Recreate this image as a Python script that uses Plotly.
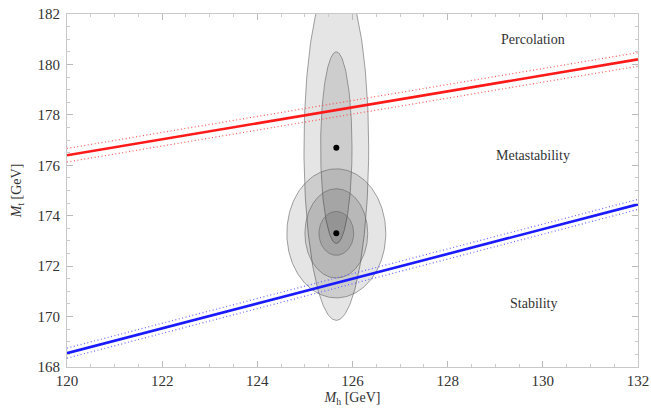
import numpy as np
import plotly.graph_objects as go

# ---- data ----
x_range = [120, 132]
y_range = [168, 182]

# boundary lines (Mh endpoints, Mt values)
line_mh = [120, 132]
percolation_mt = [176.4, 180.2]
percolation_err = 0.27
stability_mt = [168.55, 174.45]
stability_err = 0.2

# ellipse contours: center Mh, center Mt, semi-axis Mh, semi-axis Mt
ell_cx = [125.66, 125.66, 125.66, 125.66, 125.66]
ell_cy = [176.7, 176.7, 173.3, 173.3, 173.3]
ell_ax = [0.68, 0.33, 1.04, 0.66, 0.365]
ell_ay = [6.85, 3.8, 2.56, 1.77, 0.87]

best_mh = [125.66, 125.66]
best_mt = [176.7, 173.3]

region_labels = ["Percolation", "Metastability", "Stability"]
region_x = [129.8, 129.8, 129.8]
region_y = [181.0, 176.4, 170.5]

SERIF = "Liberation Serif, Times New Roman, serif"

fig = go.Figure()

t = np.linspace(0, 2 * np.pi, 240)
for cx, cy, ax, ay in zip(ell_cx, ell_cy, ell_ax, ell_ay):
    fig.add_trace(go.Scatter(
        x=cx + ax * np.cos(t), y=cy + ay * np.sin(t),
        mode="lines", fill="toself",
        fillcolor="rgba(0,0,0,0.10)",
        line=dict(color="rgba(100,100,100,0.6)", width=1),
        hoverinfo="skip", showlegend=False))

def add_band(ys, err, solid, dotted):
    for s in (1, -1):
        fig.add_trace(go.Scatter(x=line_mh, y=[v + s * err for v in ys], mode="lines",
                                 line=dict(color=dotted, width=1.2, dash="1px,2.5px"),
                                 showlegend=False))
    fig.add_trace(go.Scatter(x=line_mh, y=ys, mode="lines",
                             line=dict(color=solid, width=2.6), showlegend=False))

add_band(percolation_mt, percolation_err, "#ff1a1a", "rgba(255,70,70,0.9)")
add_band(stability_mt, stability_err, "#1a1aff", "rgba(90,90,255,0.9)")

fig.add_trace(go.Scatter(x=best_mh, y=best_mt, mode="markers",
                         marker=dict(color="black", size=6), showlegend=False))

for lab, lx, ly in zip(region_labels, region_x, region_y):
    fig.add_annotation(x=lx, y=ly, text=lab, showarrow=False,
                       font=dict(family=SERIF, size=14, color="#333"))

axis_common = dict(
    showgrid=False, zeroline=False, showline=True, linecolor="#c8c8c8", linewidth=1,
    mirror="ticks", ticks="inside", ticklen=6, tickcolor="#bbbbbb", tickwidth=1,
    tickfont=dict(family=SERIF, size=15, color="#333"),
    minor=dict(ticks="inside", ticklen=3, tickcolor="#cccccc", dtick=0.5),
    automargin=False, ticklabeloverflow="allow",
)

fig.update_xaxes(range=x_range, dtick=2, tick0=120,
                 title=dict(text="<i>M</i><sub>h</sub> [GeV]", standoff=4,
                            font=dict(family=SERIF, size=14, color="#333")),
                 **axis_common)
fig.update_yaxes(range=y_range, dtick=2, tick0=168, ticklabelstandoff=3,
                 title=dict(text="<i>M</i><sub>t</sub> [GeV]", standoff=12,
                            font=dict(family=SERIF, size=14, color="#333")),
                 **axis_common)

fig.update_layout(width=651, height=419,
                  margin=dict(l=67, r=13, t=14, b=52),
                  plot_bgcolor="white", paper_bgcolor="white")

fig.write_html("out.html", config={"displayModeBar": False},
               post_script="document.body.style.margin='0';")
